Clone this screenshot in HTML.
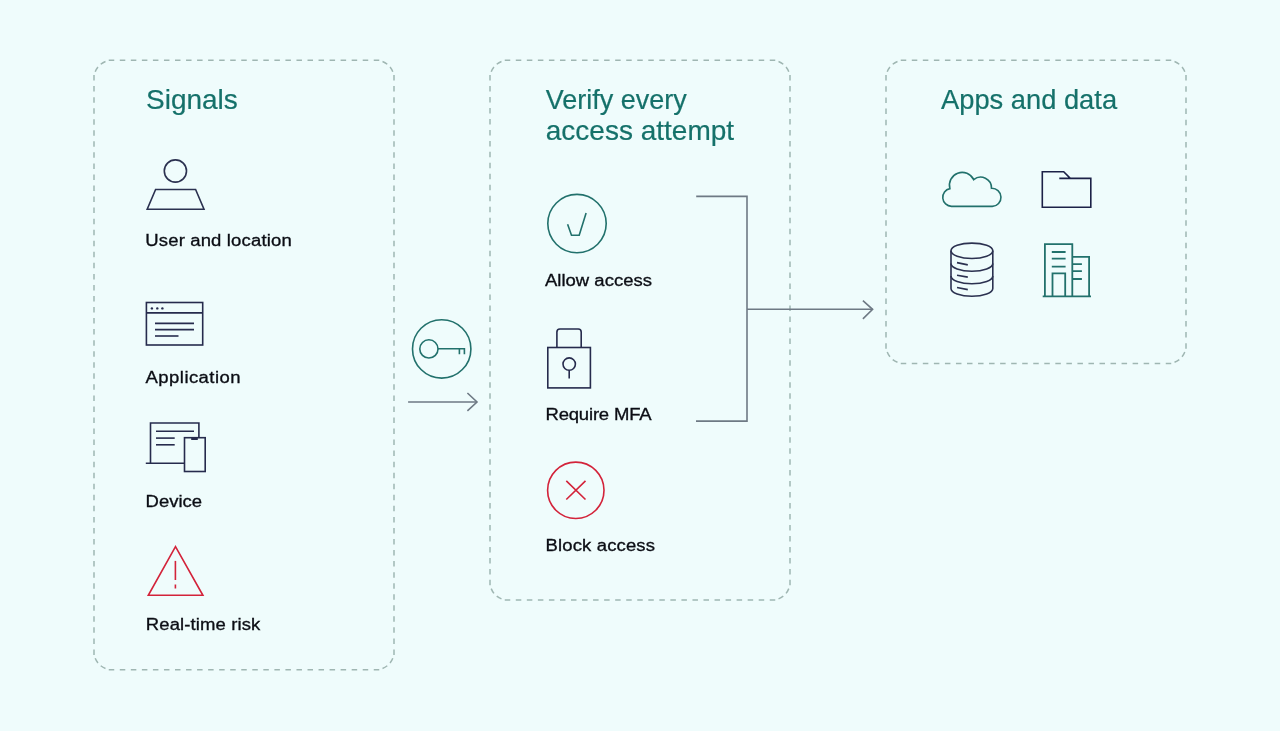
<!DOCTYPE html>
<html>
<head>
<meta charset="utf-8">
<style>
html,body{margin:0;padding:0;}
body{width:1280px;height:731px;background:#effcfc;position:relative;overflow:hidden;font-family:"Liberation Sans",sans-serif;}
svg{position:absolute;left:0;top:0;}
.tx{position:absolute;left:0;top:0;width:1280px;height:731px;transform:translateZ(0);}
.t{position:absolute;white-space:nowrap;line-height:1;}
.h{color:#15716a;font-size:28px;}
.l{color:#0b0d14;font-size:18.5px;transform:scaleY(0.92);transform-origin:0 0.8467em;-webkit-text-stroke:0.35px #0b0d14;}
.h{-webkit-text-stroke:0.2px #15716a;}
</style>
</head>
<body>
<svg width="1280" height="731" viewBox="0 0 1280 731">
  <path fill="none" stroke="#9fb6b2" stroke-width="1.5" d="M108.75 60.30L114.25 60.30M119.79 60.30L125.29 60.30M130.83 60.30L136.33 60.30M141.88 60.30L147.38 60.30M152.92 60.30L158.42 60.30M163.96 60.30L169.46 60.30M175.00 60.30L180.50 60.30M186.04 60.30L191.54 60.30M197.08 60.30L202.58 60.30M208.12 60.30L213.62 60.30M219.17 60.30L224.67 60.30M230.21 60.30L235.71 60.30M241.25 60.30L246.75 60.30M252.29 60.30L257.79 60.30M263.33 60.30L268.83 60.30M274.38 60.30L279.88 60.30M285.42 60.30L290.92 60.30M296.46 60.30L301.96 60.30M307.50 60.30L313.00 60.30M318.54 60.30L324.04 60.30M329.58 60.30L335.08 60.30M340.62 60.30L346.12 60.30M351.67 60.30L357.17 60.30M362.71 60.30L368.21 60.30M373.75 60.30L379.25 60.30M394.00 75.05L394.00 80.55M394.00 86.10L394.00 91.60M394.00 97.14L394.00 102.64M394.00 108.19L394.00 113.69M394.00 119.23L394.00 124.73M394.00 130.28L394.00 135.78M394.00 141.33L394.00 146.83M394.00 152.37L394.00 157.87M394.00 163.42L394.00 168.92M394.00 174.47L394.00 179.97M394.00 185.51L394.00 191.01M394.00 196.56L394.00 202.06M394.00 207.60L394.00 213.10M394.00 218.65L394.00 224.15M394.00 229.70L394.00 235.20M394.00 240.74L394.00 246.24M394.00 251.79L394.00 257.29M394.00 262.83L394.00 268.33M394.00 273.88L394.00 279.38M394.00 284.93L394.00 290.43M394.00 295.97L394.00 301.47M394.00 307.02L394.00 312.52M394.00 318.07L394.00 323.57M394.00 329.11L394.00 334.61M394.00 340.16L394.00 345.66M394.00 351.20L394.00 356.70M394.00 362.25L394.00 367.75M394.00 373.30L394.00 378.80M394.00 384.34L394.00 389.84M394.00 395.39L394.00 400.89M394.00 406.43L394.00 411.93M394.00 417.48L394.00 422.98M394.00 428.53L394.00 434.03M394.00 439.57L394.00 445.07M394.00 450.62L394.00 456.12M394.00 461.67L394.00 467.17M394.00 472.71L394.00 478.21M394.00 483.76L394.00 489.26M394.00 494.80L394.00 500.30M394.00 505.85L394.00 511.35M394.00 516.90L394.00 522.40M394.00 527.94L394.00 533.44M394.00 538.99L394.00 544.49M394.00 550.03L394.00 555.53M394.00 561.08L394.00 566.58M394.00 572.13L394.00 577.63M394.00 583.17L394.00 588.67M394.00 594.22L394.00 599.72M394.00 605.27L394.00 610.77M394.00 616.31L394.00 621.81M394.00 627.36L394.00 632.86M394.00 638.40L394.00 643.90M394.00 649.45L394.00 654.95M379.25 669.70L373.75 669.70M368.21 669.70L362.71 669.70M357.17 669.70L351.67 669.70M346.12 669.70L340.62 669.70M335.08 669.70L329.58 669.70M324.04 669.70L318.54 669.70M313.00 669.70L307.50 669.70M301.96 669.70L296.46 669.70M290.92 669.70L285.42 669.70M279.88 669.70L274.38 669.70M268.83 669.70L263.33 669.70M257.79 669.70L252.29 669.70M246.75 669.70L241.25 669.70M235.71 669.70L230.21 669.70M224.67 669.70L219.17 669.70M213.62 669.70L208.12 669.70M202.58 669.70L197.08 669.70M191.54 669.70L186.04 669.70M180.50 669.70L175.00 669.70M169.46 669.70L163.96 669.70M158.42 669.70L152.92 669.70M147.38 669.70L141.88 669.70M136.33 669.70L130.83 669.70M125.29 669.70L119.79 669.70M114.25 669.70L108.75 669.70M94.00 654.95L94.00 649.45M94.00 643.90L94.00 638.40M94.00 632.86L94.00 627.36M94.00 621.81L94.00 616.31M94.00 610.77L94.00 605.27M94.00 599.72L94.00 594.22M94.00 588.67L94.00 583.17M94.00 577.63L94.00 572.13M94.00 566.58L94.00 561.08M94.00 555.53L94.00 550.03M94.00 544.49L94.00 538.99M94.00 533.44L94.00 527.94M94.00 522.40L94.00 516.90M94.00 511.35L94.00 505.85M94.00 500.30L94.00 494.80M94.00 489.26L94.00 483.76M94.00 478.21L94.00 472.71M94.00 467.17L94.00 461.67M94.00 456.12L94.00 450.62M94.00 445.07L94.00 439.57M94.00 434.03L94.00 428.53M94.00 422.98L94.00 417.48M94.00 411.93L94.00 406.43M94.00 400.89L94.00 395.39M94.00 389.84L94.00 384.34M94.00 378.80L94.00 373.30M94.00 367.75L94.00 362.25M94.00 356.70L94.00 351.20M94.00 345.66L94.00 340.16M94.00 334.61L94.00 329.11M94.00 323.57L94.00 318.07M94.00 312.52L94.00 307.02M94.00 301.47L94.00 295.97M94.00 290.43L94.00 284.93M94.00 279.38L94.00 273.88M94.00 268.33L94.00 262.83M94.00 257.29L94.00 251.79M94.00 246.24L94.00 240.74M94.00 235.20L94.00 229.70M94.00 224.15L94.00 218.65M94.00 213.10L94.00 207.60M94.00 202.06L94.00 196.56M94.00 191.01L94.00 185.51M94.00 179.97L94.00 174.47M94.00 168.92L94.00 163.42M94.00 157.87L94.00 152.37M94.00 146.83L94.00 141.33M94.00 135.78L94.00 130.28M94.00 124.73L94.00 119.23M94.00 113.69L94.00 108.19M94.00 102.64L94.00 97.14M94.00 91.60L94.00 86.10M94.00 80.55L94.00 75.05M95.22 71.78A18 18 0 0 1 97.96 67.03M100.73 64.26A18 18 0 0 1 105.48 61.52M382.52 61.52A18 18 0 0 1 387.27 64.26M390.04 67.03A18 18 0 0 1 392.78 71.78M392.78 658.22A18 18 0 0 1 390.04 662.97M387.27 665.74A18 18 0 0 1 382.52 668.48M105.48 668.48A18 18 0 0 1 100.73 665.74M97.96 662.97A18 18 0 0 1 95.22 658.22M504.75 60.30L510.25 60.30M515.79 60.30L521.29 60.30M526.83 60.30L532.33 60.30M537.88 60.30L543.38 60.30M548.92 60.30L554.42 60.30M559.96 60.30L565.46 60.30M571.00 60.30L576.50 60.30M582.04 60.30L587.54 60.30M593.08 60.30L598.58 60.30M604.12 60.30L609.62 60.30M615.17 60.30L620.67 60.30M626.21 60.30L631.71 60.30M637.25 60.30L642.75 60.30M648.29 60.30L653.79 60.30M659.33 60.30L664.83 60.30M670.38 60.30L675.88 60.30M681.42 60.30L686.92 60.30M692.46 60.30L697.96 60.30M703.50 60.30L709.00 60.30M714.54 60.30L720.04 60.30M725.58 60.30L731.08 60.30M736.62 60.30L742.12 60.30M747.67 60.30L753.17 60.30M758.71 60.30L764.21 60.30M769.75 60.30L775.25 60.30M790.00 75.05L790.00 80.55M790.00 86.02L790.00 91.52M790.00 97.00L790.00 102.50M790.00 107.97L790.00 113.47M790.00 118.95L790.00 124.45M790.00 129.92L790.00 135.42M790.00 140.89L790.00 146.39M790.00 151.87L790.00 157.37M790.00 162.84L790.00 168.34M790.00 173.82L790.00 179.32M790.00 184.79L790.00 190.29M790.00 195.76L790.00 201.26M790.00 206.74L790.00 212.24M790.00 217.71L790.00 223.21M790.00 228.68L790.00 234.18M790.00 239.66L790.00 245.16M790.00 250.63L790.00 256.13M790.00 261.61L790.00 267.11M790.00 272.58L790.00 278.08M790.00 283.55L790.00 289.05M790.00 294.53L790.00 300.03M790.00 305.50L790.00 311.00M790.00 316.48L790.00 321.98M790.00 327.45L790.00 332.95M790.00 338.42L790.00 343.92M790.00 349.40L790.00 354.90M790.00 360.37L790.00 365.87M790.00 371.35L790.00 376.85M790.00 382.32L790.00 387.82M790.00 393.29L790.00 398.79M790.00 404.27L790.00 409.77M790.00 415.24L790.00 420.74M790.00 426.22L790.00 431.72M790.00 437.19L790.00 442.69M790.00 448.16L790.00 453.66M790.00 459.14L790.00 464.64M790.00 470.11L790.00 475.61M790.00 481.08L790.00 486.58M790.00 492.06L790.00 497.56M790.00 503.03L790.00 508.53M790.00 514.01L790.00 519.51M790.00 524.98L790.00 530.48M790.00 535.95L790.00 541.45M790.00 546.93L790.00 552.43M790.00 557.90L790.00 563.40M790.00 568.88L790.00 574.38M790.00 579.85L790.00 585.35M775.25 600.10L769.75 600.10M764.21 600.10L758.71 600.10M753.17 600.10L747.67 600.10M742.12 600.10L736.62 600.10M731.08 600.10L725.58 600.10M720.04 600.10L714.54 600.10M709.00 600.10L703.50 600.10M697.96 600.10L692.46 600.10M686.92 600.10L681.42 600.10M675.88 600.10L670.38 600.10M664.83 600.10L659.33 600.10M653.79 600.10L648.29 600.10M642.75 600.10L637.25 600.10M631.71 600.10L626.21 600.10M620.67 600.10L615.17 600.10M609.62 600.10L604.12 600.10M598.58 600.10L593.08 600.10M587.54 600.10L582.04 600.10M576.50 600.10L571.00 600.10M565.46 600.10L559.96 600.10M554.42 600.10L548.92 600.10M543.38 600.10L537.88 600.10M532.33 600.10L526.83 600.10M521.29 600.10L515.79 600.10M510.25 600.10L504.75 600.10M490.00 585.35L490.00 579.85M490.00 574.38L490.00 568.88M490.00 563.40L490.00 557.90M490.00 552.43L490.00 546.93M490.00 541.45L490.00 535.95M490.00 530.48L490.00 524.98M490.00 519.51L490.00 514.01M490.00 508.53L490.00 503.03M490.00 497.56L490.00 492.06M490.00 486.58L490.00 481.08M490.00 475.61L490.00 470.11M490.00 464.64L490.00 459.14M490.00 453.66L490.00 448.16M490.00 442.69L490.00 437.19M490.00 431.72L490.00 426.22M490.00 420.74L490.00 415.24M490.00 409.77L490.00 404.27M490.00 398.79L490.00 393.29M490.00 387.82L490.00 382.32M490.00 376.85L490.00 371.35M490.00 365.87L490.00 360.37M490.00 354.90L490.00 349.40M490.00 343.92L490.00 338.42M490.00 332.95L490.00 327.45M490.00 321.98L490.00 316.48M490.00 311.00L490.00 305.50M490.00 300.03L490.00 294.53M490.00 289.05L490.00 283.55M490.00 278.08L490.00 272.58M490.00 267.11L490.00 261.61M490.00 256.13L490.00 250.63M490.00 245.16L490.00 239.66M490.00 234.18L490.00 228.68M490.00 223.21L490.00 217.71M490.00 212.24L490.00 206.74M490.00 201.26L490.00 195.76M490.00 190.29L490.00 184.79M490.00 179.32L490.00 173.82M490.00 168.34L490.00 162.84M490.00 157.37L490.00 151.87M490.00 146.39L490.00 140.89M490.00 135.42L490.00 129.92M490.00 124.45L490.00 118.95M490.00 113.47L490.00 107.97M490.00 102.50L490.00 97.00M490.00 91.52L490.00 86.02M490.00 80.55L490.00 75.05M491.22 71.78A18 18 0 0 1 493.96 67.03M496.73 64.26A18 18 0 0 1 501.48 61.52M778.52 61.52A18 18 0 0 1 783.27 64.26M786.04 67.03A18 18 0 0 1 788.78 71.78M788.78 588.62A18 18 0 0 1 786.04 593.37M783.27 596.14A18 18 0 0 1 778.52 598.88M501.48 598.88A18 18 0 0 1 496.73 596.14M493.96 593.37A18 18 0 0 1 491.22 588.62M900.75 60.30L906.25 60.30M911.79 60.30L917.29 60.30M922.83 60.30L928.33 60.30M933.88 60.30L939.38 60.30M944.92 60.30L950.42 60.30M955.96 60.30L961.46 60.30M967.00 60.30L972.50 60.30M978.04 60.30L983.54 60.30M989.08 60.30L994.58 60.30M1000.12 60.30L1005.62 60.30M1011.17 60.30L1016.67 60.30M1022.21 60.30L1027.71 60.30M1033.25 60.30L1038.75 60.30M1044.29 60.30L1049.79 60.30M1055.33 60.30L1060.83 60.30M1066.38 60.30L1071.88 60.30M1077.42 60.30L1082.92 60.30M1088.46 60.30L1093.96 60.30M1099.50 60.30L1105.00 60.30M1110.54 60.30L1116.04 60.30M1121.58 60.30L1127.08 60.30M1132.62 60.30L1138.12 60.30M1143.67 60.30L1149.17 60.30M1154.71 60.30L1160.21 60.30M1165.75 60.30L1171.25 60.30M1186.00 75.05L1186.00 80.55M1186.00 86.22L1186.00 91.72M1186.00 97.40L1186.00 102.90M1186.00 108.57L1186.00 114.07M1186.00 119.75L1186.00 125.25M1186.00 130.93L1186.00 136.43M1186.00 142.10L1186.00 147.60M1186.00 153.27L1186.00 158.77M1186.00 164.45L1186.00 169.95M1186.00 175.62L1186.00 181.12M1186.00 186.80L1186.00 192.30M1186.00 197.97L1186.00 203.47M1186.00 209.15L1186.00 214.65M1186.00 220.32L1186.00 225.82M1186.00 231.50L1186.00 237.00M1186.00 242.67L1186.00 248.17M1186.00 253.85L1186.00 259.35M1186.00 265.02L1186.00 270.52M1186.00 276.20L1186.00 281.70M1186.00 287.38L1186.00 292.88M1186.00 298.55L1186.00 304.05M1186.00 309.72L1186.00 315.22M1186.00 320.90L1186.00 326.40M1186.00 332.07L1186.00 337.57M1186.00 343.25L1186.00 348.75M1171.25 363.50L1165.75 363.50M1160.21 363.50L1154.71 363.50M1149.17 363.50L1143.67 363.50M1138.12 363.50L1132.62 363.50M1127.08 363.50L1121.58 363.50M1116.04 363.50L1110.54 363.50M1105.00 363.50L1099.50 363.50M1093.96 363.50L1088.46 363.50M1082.92 363.50L1077.42 363.50M1071.88 363.50L1066.38 363.50M1060.83 363.50L1055.33 363.50M1049.79 363.50L1044.29 363.50M1038.75 363.50L1033.25 363.50M1027.71 363.50L1022.21 363.50M1016.67 363.50L1011.17 363.50M1005.62 363.50L1000.12 363.50M994.58 363.50L989.08 363.50M983.54 363.50L978.04 363.50M972.50 363.50L967.00 363.50M961.46 363.50L955.96 363.50M950.42 363.50L944.92 363.50M939.38 363.50L933.88 363.50M928.33 363.50L922.83 363.50M917.29 363.50L911.79 363.50M906.25 363.50L900.75 363.50M886.00 348.75L886.00 343.25M886.00 337.57L886.00 332.07M886.00 326.40L886.00 320.90M886.00 315.23L886.00 309.73M886.00 304.05L886.00 298.55M886.00 292.88L886.00 287.38M886.00 281.70L886.00 276.20M886.00 270.52L886.00 265.02M886.00 259.35L886.00 253.85M886.00 248.18L886.00 242.68M886.00 237.00L886.00 231.50M886.00 225.83L886.00 220.33M886.00 214.65L886.00 209.15M886.00 203.48L886.00 197.98M886.00 192.30L886.00 186.80M886.00 181.13L886.00 175.63M886.00 169.95L886.00 164.45M886.00 158.78L886.00 153.28M886.00 147.60L886.00 142.10M886.00 136.43L886.00 130.93M886.00 125.25L886.00 119.75M886.00 114.08L886.00 108.58M886.00 102.90L886.00 97.40M886.00 91.73L886.00 86.23M886.00 80.55L886.00 75.05M887.22 71.78A18 18 0 0 1 889.96 67.03M892.73 64.26A18 18 0 0 1 897.48 61.52M1174.52 61.52A18 18 0 0 1 1179.27 64.26M1182.04 67.03A18 18 0 0 1 1184.78 71.78M1184.78 352.02A18 18 0 0 1 1182.04 356.77M1179.27 359.54A18 18 0 0 1 1174.52 362.28M897.48 362.28A18 18 0 0 1 892.73 359.54M889.96 356.77A18 18 0 0 1 887.22 352.02"/>
  <!-- user icon -->
  <g fill="none" stroke="#2b3150" stroke-width="1.6">
    <circle cx="175.4" cy="171" r="11.1"/>
    <path d="M155.6 189.5 H195.6 L204 209.3 H147.2 Z" stroke-linejoin="miter"/>
  </g>
  <!-- application icon -->
  <g fill="none" stroke="#262b4d" stroke-width="1.6">
    <rect x="146.4" y="302.5" width="56.3" height="42.5"/>
    <line x1="146.4" y1="312.9" x2="202.7" y2="312.9"/>
    <line x1="155" y1="323.4" x2="194" y2="323.4"/>
    <line x1="155" y1="329.6" x2="194" y2="329.6"/>
    <line x1="155" y1="336" x2="178.5" y2="336"/>
  </g>
  <g fill="#262b4d">
    <circle cx="151.9" cy="308.4" r="1.2"/>
    <circle cx="157.3" cy="308.4" r="1.2"/>
    <circle cx="162.4" cy="308.4" r="1.2"/>
  </g>
  <!-- device icon -->
  <g fill="none" stroke="#262b4d" stroke-width="1.6">
    <path d="M150.5 463.3 V423 H198.9 V437.7"/>
    <line x1="145.8" y1="463.3" x2="184.5" y2="463.3"/>
    <rect x="184.5" y="437.7" width="20.7" height="33.8"/>
    <line x1="191.2" y1="439" x2="197.8" y2="439" stroke-width="2"/>
    <line x1="156" y1="431.3" x2="194" y2="431.3"/>
    <line x1="156" y1="438.1" x2="174.7" y2="438.1"/>
    <line x1="156" y1="444.8" x2="174.7" y2="444.8"/>
  </g>
  <!-- risk icon -->
  <g fill="none" stroke="#d3233a" stroke-width="1.6">
    <path d="M175.5 546.6 L202.9 595.3 H148.3 Z" stroke-linejoin="miter"/>
    <line x1="175.4" y1="560.9" x2="175.4" y2="580"/>
    <line x1="175.4" y1="584.5" x2="175.4" y2="588.5"/>
  </g>
  <!-- key -->
  <g fill="none" stroke="#22716c" stroke-width="1.6">
    <circle cx="441.7" cy="348.9" r="29.2"/>
    <circle cx="428.9" cy="348.9" r="9.1"/>
    <path d="M438 348.7 H464.4 V354.3 M459.4 348.7 V354.3"/>
  </g>
  <!-- arrows -->
  <g fill="none" stroke="#6e7984" stroke-width="1.6">
    <path d="M408.1 402 H477"/>
    <path d="M467.4 393 L477 402 L467.4 410.8"/>
    <path d="M696.2 196.4 H747 V421.1 H696"/>
    <path d="M747 309.3 H872.6"/>
    <path d="M862.9 300.7 L872.6 309.3 L862.9 318.9"/>
  </g>
  <!-- allow -->
  <g fill="none" stroke="#22716c" stroke-width="1.6">
    <circle cx="577" cy="223.6" r="29.2"/>
    <path d="M567.6 224.3 L571.5 235.3 H579.2 L586.1 213.1"/>
  </g>
  <!-- lock -->
  <g fill="none" stroke="#262b4d" stroke-width="1.6">
    <rect x="547.8" y="347.5" width="42.6" height="40.4"/>
    <path d="M556.9 347.5 V332 Q556.9 329 559.9 329 H578.2 Q581.2 329 581.2 332 V347.5"/>
    <circle cx="569.2" cy="364.1" r="6.2"/>
    <line x1="569.2" y1="370.3" x2="569.2" y2="378.5"/>
  </g>
  <!-- block -->
  <g fill="none" stroke="#d3233a" stroke-width="1.6">
    <circle cx="575.8" cy="490.3" r="28.2"/>
    <path d="M566.3 480.9 L585.5 499.5 M585.5 480.9 L566.3 499.5"/>
  </g>
  <!-- cloud -->
  <g fill="none" stroke="#22716c" stroke-width="1.6">
    <path d="M951.5 206.4 A9 9 0 0 1 949.9 188.6 A12.75 12.75 0 0 1 973.7 179.7 A10.84 10.84 0 0 1 991.5 188.3 A9 9 0 0 1 992.3 206.4 Z"/>
  </g>
  <!-- folder -->
  <g fill="none" stroke="#1c2147" stroke-width="1.6">
    <path d="M1070.3 178.4 L1063.7 171.7 H1042.3 V207.3 H1090.8 V178.4 H1059.3"/>
  </g>
  <!-- database -->
  <g fill="none" stroke="#2b3150" stroke-width="1.6">
    <ellipse cx="971.9" cy="250.8" rx="20.9" ry="7.7"/>
    <path d="M951 250.8 V288.6 A20.9 7.7 0 0 0 992.8 288.6 V250.8"/>
    <path d="M951 263.5 A20.9 7.7 0 0 0 992.8 263.5"/>
    <path d="M951 276.1 A20.9 7.7 0 0 0 992.8 276.1"/>
    <path d="M957 262.6 L967.8 264.9 M957 275.2 L967.8 277.1 M957 287.5 L967.8 289.6"/>
  </g>
  <!-- building -->
  <g fill="none" stroke="#22716c" stroke-width="1.8">
    <path d="M1044.9 296.3 V244.1 H1072.3 V296.3"/>
    <path d="M1072.3 256.8 H1089.1 V296.3"/>
    <line x1="1042.7" y1="296.3" x2="1091" y2="296.3"/>
    <path d="M1052.5 296.3 V273.3 H1065.2 V296.3"/>
    <path d="M1051.8 252 H1065.6 M1051.8 258.7 H1065.6 M1051.8 266.6 H1065.6"/>
    <path d="M1072.3 264.2 H1081.9 M1072.3 271.2 H1081.9 M1072.3 279 H1081.9"/>
  </g>
</svg>
<div class="tx">
<div class="t h" style="left:146px;top:85.8px;">Signals</div>
<div class="t l" style="left:145.3px;top:230.9px;letter-spacing:0.15px;">User and location</div>
<div class="t l" style="left:145.6px;top:367.8px;letter-spacing:0.44px;">Application</div>
<div class="t l" style="left:145.6px;top:491.5px;">Device</div>
<div class="t l" style="left:145.8px;top:615.2px;letter-spacing:0.11px;">Real-time risk</div>
<div class="t h" style="left:545.8px;top:86.6px;font-size:27px;">Verify every</div>
<div class="t h" style="left:545.8px;top:117.4px;">access attempt</div>
<div class="t l" style="left:545px;top:270.6px;">Allow access</div>
<div class="t l" style="left:545.5px;top:404.8px;letter-spacing:-0.19px;">Require MFA</div>
<div class="t l" style="left:545.5px;top:536.4px;letter-spacing:0.14px;">Block access</div>
<div class="t h" style="left:941px;top:86.1px;font-size:27.3px;">Apps and data</div>
</div>
</body>
</html>
